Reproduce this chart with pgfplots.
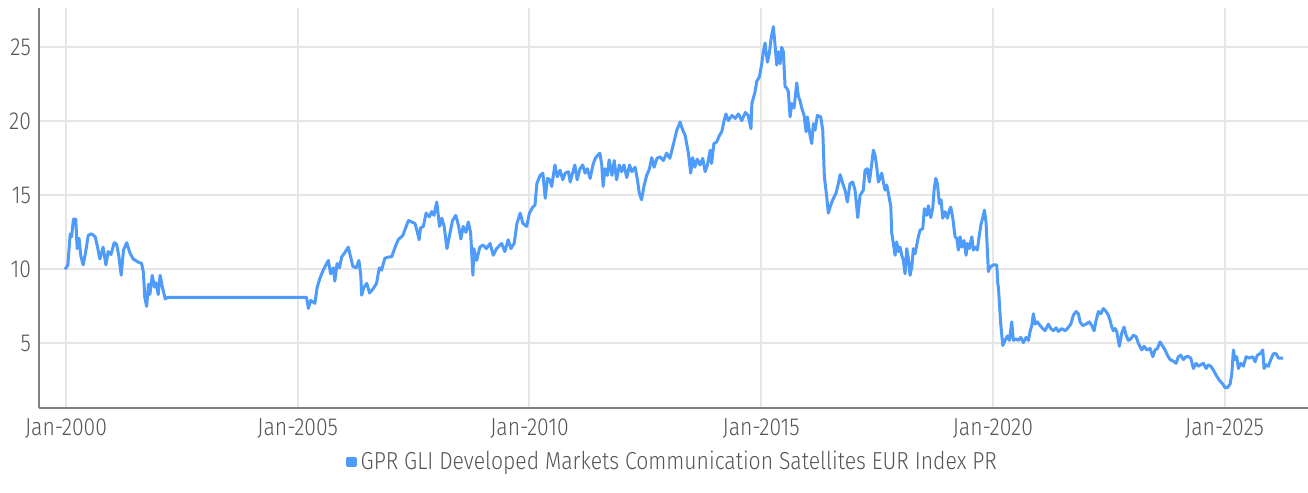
\documentclass[border=0pt]{standalone}
\usepackage{pgfplots}
\pgfplotsset{compat=1.18}
\usepackage{fontspec}
\setmainfont{Fira Sans}[UprightFont=* Light, FakeStretch=0.86]
\definecolor{lineblue}{HTML}{4F9BFA}
\definecolor{gridgrey}{HTML}{E6E6E6}
\definecolor{axisgrey}{HTML}{808080}
\definecolor{textgrey}{HTML}{555555}
\begin{document}
\begin{tikzpicture}
\path[use as bounding box] (0,0) rectangle (654pt,246.5pt);
\begin{axis}[
  at={(19.5pt,42.5pt)}, anchor=south west,
  scale only axis, width=634.5pt, height=200pt,
  xmin=1999.417, xmax=2026.8, ymin=0.63, ymax=27.66,
  axis x line*=bottom, axis y line*=left,
  axis line style={axisgrey, line width=1pt, -},
  xtick={2000,2005,2010,2015,2020,2025},
  xticklabels={Jan-2000,Jan-2005,Jan-2010,Jan-2015,Jan-2020,Jan-2025},
  ytick={5,10,15,20,25},
  major tick length=0pt,
  grid=major,
  major grid style={gridgrey, line width=1pt},
  tick label style={textgrey, font=\fontsize{12.3}{14}\selectfont},
  /pgf/number format/assume math mode=true,
  yticklabel style={xshift=-0.5pt},
  xticklabel style={yshift=-2pt},
  legend style={at={(0.5,-0.135)}, anchor=center, draw=none, fill=none,
    font=\fontsize{12.3}{14}\selectfont, text=textgrey},
  legend image code/.code={\fill[lineblue] (0pt,-1.9pt) rectangle (3.8pt,1.9pt);},
]
\addplot[lineblue, line width=1.5pt, line join=round] coordinates {
(1999.98,10.0)(2000.04,10.3)(2000.09,12.4)(2000.12,12.2)(2000.16,13.4)(2000.21,13.4)
(2000.24,11.4)(2000.28,12.1)(2000.32,10.9)(2000.37,10.3)(2000.42,11.1)(2000.48,12.3)
(2000.55,12.4)(2000.63,12.2)(2000.68,11.5)(2000.73,10.7)(2000.80,11.5)(2000.86,10.3)
(2000.91,11.2)(2000.97,11.0)(2001.04,11.8)(2001.09,11.7)(2001.14,10.9)(2001.19,9.6)
(2001.24,11.3)(2001.31,11.8)(2001.38,11.1)(2001.45,10.7)(2001.55,10.5)(2001.63,10.4)
(2001.67,9.8)(2001.70,8.1)(2001.74,7.5)(2001.78,9.0)(2001.81,8.3)(2001.86,9.6)
(2001.91,8.8)(2001.94,9.1)(2001.99,8.3)(2002.03,9.6)(2002.08,8.8)(2002.14,8.0)
(2002.19,8.1)(2005.19,8.1)
(2005.23,7.36)(2005.28,7.9)(2005.37,7.7)(2005.42,8.8)(2005.48,9.4)(2005.55,9.95)
(2005.61,10.3)(2005.66,10.6)(2005.71,9.7)(2005.77,10.1)(2005.80,9.2)(2005.85,10.4)
(2005.90,10.1)(2005.95,10.85)(2006.01,11.1)(2006.09,11.5)(2006.14,10.85)(2006.19,10.2)
(2006.26,10.1)(2006.32,10.6)(2006.36,9.6)(2006.38,8.25)(2006.43,8.8)(2006.49,9.05)
(2006.55,8.4)(2006.63,8.7)(2006.70,9.05)(2006.76,10.1)(2006.81,9.95)(2006.88,10.75)
(2006.98,10.85)(2007.03,10.85)(2007.10,11.5)(2007.17,12.0)(2007.27,12.3)(2007.34,12.9)
(2007.39,13.3)(2007.46,13.2)(2007.53,13.1)(2007.57,12.65)(2007.62,12.0)(2007.65,12.8)
(2007.71,12.9)(2007.77,13.8)(2007.84,13.55)(2007.89,13.9)(2007.94,13.65)(2008.00,14.55)
(2008.06,12.9)(2008.11,13.45)(2008.16,12.9)(2008.22,11.4)(2008.27,12.2)(2008.34,13.3)
(2008.41,13.65)(2008.47,12.95)(2008.52,12.05)(2008.57,12.9)(2008.63,12.5)(2008.68,13.2)
(2008.73,12.5)(2008.78,9.6)(2008.80,11.4)(2008.86,10.6)(2008.93,11.5)(2009.00,11.65)
(2009.07,11.4)(2009.15,11.75)(2009.22,10.95)(2009.29,11.4)(2009.40,11.75)(2009.47,11.2)
(2009.54,12.0)(2009.60,11.4)(2009.67,11.75)(2009.73,13.1)(2009.80,13.8)(2009.86,13.1)
(2009.94,12.9)(2010.00,13.8)(2010.07,14.2)(2010.12,14.35)(2010.16,15.8)(2010.23,16.35)
(2010.29,16.5)(2010.34,14.8)(2010.39,16.15)(2010.44,16.05)(2010.48,15.6)(2010.55,17.05)
(2010.60,16.25)(2010.66,16.7)(2010.72,16.05)(2010.77,16.5)(2010.84,16.6)(2010.88,15.9)
(2010.93,16.5)(2010.98,17.05)(2011.03,16.05)(2011.09,16.8)(2011.15,17.05)(2011.20,16.5)
(2011.25,16.8)(2011.31,16.15)(2011.37,17.05)(2011.42,17.5)(2011.47,17.7)(2011.52,17.85)
(2011.56,17.05)(2011.59,15.6)(2011.63,16.8)(2011.68,16.35)(2011.72,17.4)(2011.78,16.35)
(2011.83,17.35)(2011.88,16.05)(2011.94,17.05)(2011.99,16.6)(2012.04,17.05)(2012.10,16.2)
(2012.16,17.05)(2012.21,16.6)(2012.28,16.9)(2012.33,16.05)(2012.37,15.15)(2012.42,14.7)
(2012.47,15.6)(2012.53,16.35)(2012.59,16.8)(2012.64,17.55)(2012.69,16.9)(2012.75,17.5)
(2012.82,17.6)(2012.89,17.35)(2012.96,17.85)(2013.03,17.5)(2013.11,18.5)(2013.18,19.4)
(2013.25,19.95)(2013.31,19.4)(2013.36,19.05)(2013.43,17.85)(2013.48,16.5)(2013.52,17.55)
(2013.57,16.9)(2013.62,17.45)(2013.68,17.05)(2013.74,17.5)(2013.79,16.6)(2013.84,17.05)
(2013.90,18.05)(2013.93,17.15)(2013.98,18.5)(2014.04,18.6)(2014.10,19.05)(2014.15,19.3)
(2014.20,20.05)(2014.24,20.5)(2014.29,20.05)(2014.37,20.4)(2014.44,20.2)(2014.51,20.5)
(2014.58,20.05)(2014.66,20.6)(2014.72,20.4)(2014.78,19.5)(2014.80,21.2)
(2014.868,22.0)(2014.905,22.7)(2014.961,23.0)(2015.013,23.9)(2015.047,24.7)(2015.084,25.3)
(2015.134,24.0)(2015.177,24.6)(2015.214,25.6)(2015.263,26.4)(2015.300,25.15)(2015.337,23.8)
(2015.371,24.7)(2015.408,23.9)(2015.444,25.0)(2015.479,24.7)(2015.516,22.35)(2015.552,22.25)
(2015.587,22.0)(2015.624,20.3)(2015.660,21.2)(2015.710,20.9)(2015.768,22.6)(2015.803,21.7)
(2015.839,21.4)(2015.876,20.9)(2015.926,20.4)(2015.969,19.3)(2015.997,20.3)(2016.055,19.05)
(2016.092,18.5)(2016.126,19.85)(2016.163,19.4)(2016.213,20.4)(2016.286,20.3)(2016.329,19.4)
(2016.364,16.25)(2016.415,14.9)(2016.450,13.8)(2016.487,14.2)(2016.545,14.7)(2016.616,15.15)
(2016.666,15.8)(2016.703,16.4)(2016.761,15.8)(2016.810,15.35)(2016.860,14.55)(2016.918,15.8)
(2016.976,15.9)(2017.026,15.35)(2017.084,13.5)
(2017.134,15.0)(2017.205,15.35)(2017.242,16.7)(2017.292,16.8)(2017.335,15.9)(2017.387,17.15)
(2017.421,18.05)(2017.458,17.7)(2017.495,16.9)(2017.529,15.9)(2017.566,16.15)(2017.602,16.5)
(2017.637,15.9)(2017.674,15.35)(2017.710,15.7)(2017.745,15.15)(2017.797,14.25)(2017.818,12.45)
(2017.853,11.75)(2017.890,10.95)(2017.926,11.85)(2017.961,11.2)(2017.997,11.5)(2018.034,10.95)
(2018.069,10.6)(2018.105,9.7)(2018.142,11.4)(2018.176,10.75)(2018.213,9.6)(2018.250,10.15)
(2018.284,11.4)(2018.321,11.05)(2018.358,11.65)(2018.392,12.2)(2018.429,12.65)(2018.487,12.75)
(2018.522,14.1)(2018.573,13.65)(2018.608,14.3)(2018.660,13.5)(2018.703,14.15)(2018.731,15.35)
(2018.768,16.15)(2018.802,15.8)(2018.845,14.45)(2018.882,14.7)(2018.918,13.45)(2018.968,13.9)
(2019.018,13.45)(2019.061,14.0)(2019.091,14.2)(2019.134,13.5)(2019.184,12.2)(2019.221,12.1)
(2019.255,11.3)(2019.292,12.2)(2019.329,11.5)(2019.378,11.95)(2019.422,10.95)(2019.450,11.75)
(2019.493,11.4)(2019.545,12.2)(2019.579,11.3)(2019.631,11.5)(2019.666,11.3)(2019.709,12.35)
(2019.745,13.05)(2019.782,13.5)(2019.817,14.0)(2019.853,13.15)(2019.881,11.3)(2019.903,9.85)
(2019.940,10.15)(2020.011,10.3)(2020.084,10.3)(2020.106,9.05)
(2020.119,8.8)(2020.170,6.3)(2020.214,4.85)(2020.263,5.2)(2020.313,5.5)(2020.356,5.2)
(2020.408,6.45)(2020.442,5.2)(2020.501,5.3)(2020.550,5.2)(2020.602,5.4)(2020.658,5.05)
(2020.716,5.4)(2020.766,5.2)(2020.803,5.8)(2020.839,6.2)(2020.874,7.0)(2020.911,6.3)
(2020.960,6.45)(2021.018,6.2)(2021.077,6.0)(2021.126,5.85)(2021.198,6.3)(2021.249,6.0)
(2021.305,5.85)(2021.364,6.05)(2021.413,5.8)(2021.487,6.0)(2021.558,5.85)(2021.608,6.0)
(2021.681,6.3)(2021.737,6.9)(2021.795,7.15)(2021.845,7.0)(2021.882,6.45)(2021.940,6.2)
(2022.011,6.3)(2022.082,6.45)(2022.134,6.2)(2022.184,5.85)(2022.227,6.55)(2022.277,7.15)
(2022.328,7.0)(2022.385,7.35)(2022.443,7.15)(2022.492,6.9)(2022.529,6.55)(2022.566,6.1)
(2022.600,5.85)(2022.637,6.0)(2022.673,5.8)(2022.730,4.8)(2022.782,5.7)(2022.831,6.1)
(2022.874,5.55)(2022.924,5.2)(2022.976,5.3)(2023.032,5.55)(2023.090,5.45)(2023.140,5.0)
(2023.213,4.55)(2023.263,4.8)(2023.321,4.55)(2023.392,4.65)(2023.451,4.1)(2023.500,4.55)
(2023.550,4.65)(2023.608,5.1)(2023.666,4.8)(2023.716,4.55)(2023.766,4.2)(2023.825,3.9)
(2023.895,3.8)(2023.953,3.65)(2024.003,4.1)(2024.055,4.2)(2024.111,3.9)(2024.169,4.1)
(2024.219,4.1)(2024.270,4.0)(2024.327,3.3)(2024.385,3.65)(2024.435,3.45)(2024.486,3.55)
(2024.542,3.65)(2024.601,3.3)(2024.650,3.55)(2024.702,3.45)(2024.758,3.2)(2024.817,2.85)
(2024.888,2.5)(2024.961,2.25)(2025.011,2.0)(2025.060,2.0)(2025.119,2.25)(2025.155,2.9)
(2025.190,4.55)(2025.226,3.9)(2025.263,4.1)(2025.297,3.3)(2025.349,3.65)(2025.406,3.45)
(2025.464,4.1)(2025.535,4.0)(2025.608,4.1)(2025.658,3.75)(2025.708,4.2)(2025.766,4.3)
(2025.824,4.55)(2025.852,3.3)(2025.896,3.55)(2025.945,3.45)(2025.997,3.9)(2026.053,4.3)
(2026.112,4.3)(2026.161,4.0)(2026.198,4.0)(2026.263,4.0)
};
\addlegendentry{GPR GLI Developed Markets Communication Satellites EUR Index PR}
\end{axis}
\end{tikzpicture}
\end{document}
